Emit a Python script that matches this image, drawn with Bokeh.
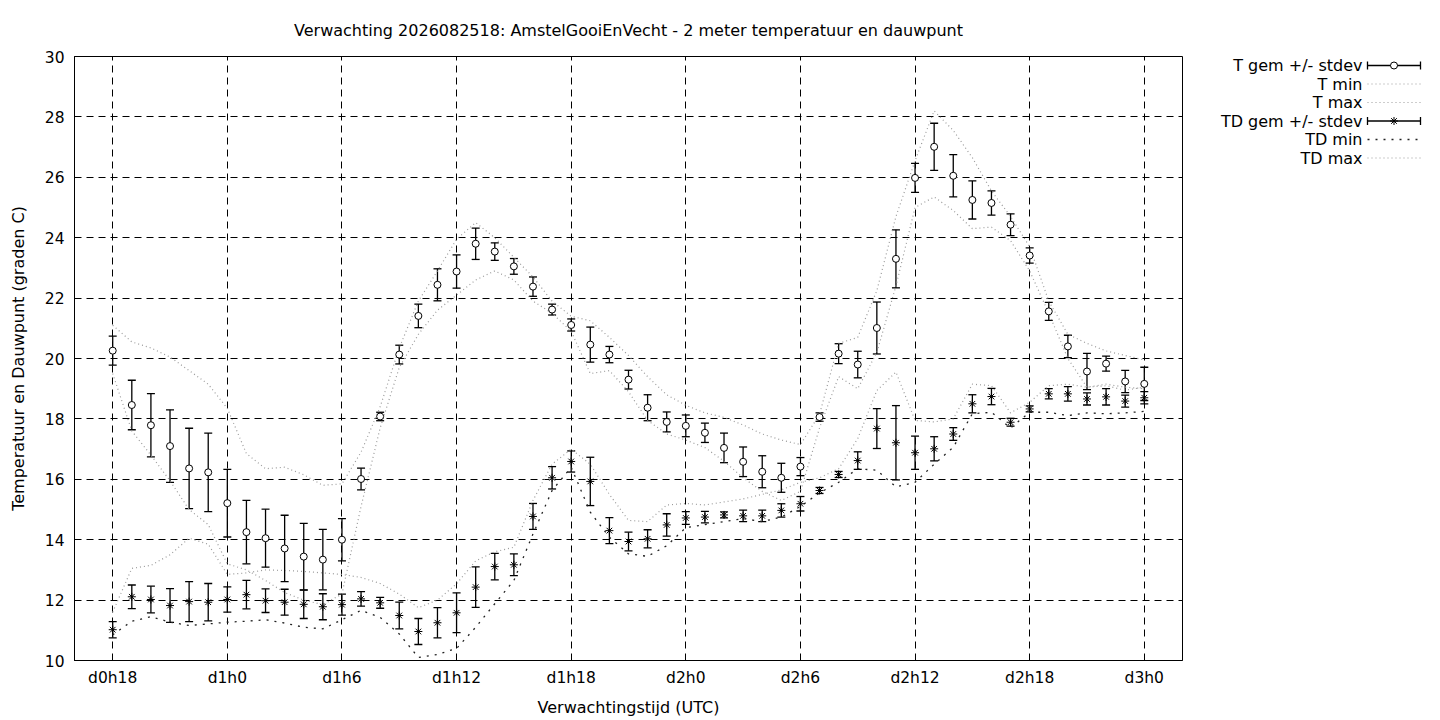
import numpy as np
from bokeh.plotting import figure
from bokeh.layouts import row
from bokeh.models import ColumnDataSource, Whisker, TeeHead, FixedTicker, Range1d
from bokeh.core.properties import value
from bokeh.embed import file_html
from bokeh.resources import INLINE

FONT = "DejaVu Sans"

# --- data (hours since d0h0) ---
hours = list(range(18, 73))

t_mean = [20.26, 18.46, 17.79, 17.10, 16.36, 16.23, 15.21, 14.25, 14.05, 13.71,
          13.44, 13.34, 14.00, 16.01, 18.08, 20.13, 21.41, 22.44, 22.88, 23.80,
          23.54, 23.05, 22.38, 21.62, 21.11, 20.46, 20.13, 19.30, 18.37, 17.90,
          17.77, 17.54, 17.04, 16.58, 16.25, 16.05, 16.42, 18.06, 20.16, 19.80,
          21.01, 23.30, 25.98, 27.01, 26.05, 25.25, 25.15, 24.43, 23.41, 21.56,
          20.40, 19.57, 19.83, 19.24, 19.16]
t_std = [0.48, 0.82, 1.05, 1.20, 1.33, 1.30, 1.12, 1.05, 0.96, 1.10,
         1.10, 1.00, 0.70, 0.36, 0.14, 0.31, 0.39, 0.53, 0.55, 0.52,
         0.29, 0.26, 0.32, 0.18, 0.20, 0.58, 0.27, 0.31, 0.43, 0.33,
         0.36, 0.32, 0.49, 0.49, 0.53, 0.48, 0.30, 0.14, 0.33, 0.44,
         0.86, 0.96, 0.48, 0.78, 0.70, 0.63, 0.40, 0.36, 0.25, 0.30,
         0.37, 0.60, 0.25, 0.37, 0.55]
t_min = [19.50, 17.60, 16.80, 15.95, 15.00, 14.50, 13.20, 13.00, 12.65, 12.25,
         12.00, 11.85, 12.20, 15.10, 17.70, 19.70, 20.80, 21.60, 22.10, 22.60,
         22.90, 22.60, 21.90, 21.50, 20.90, 19.50, 19.60, 18.90, 17.95, 17.50,
         17.30, 17.05, 16.60, 16.05, 15.60, 15.30, 15.60, 17.70, 19.40, 19.00,
         20.20, 22.40, 25.00, 25.35, 24.90, 24.30, 24.35, 23.90, 22.90, 21.50,
         20.00, 19.05, 19.15, 19.05, 19.00]
t_max = [21.10, 20.55, 20.35, 20.05, 19.60, 19.15, 18.35, 16.85, 16.35, 16.40,
         16.15, 15.80, 15.85, 16.90, 18.40, 20.35, 21.90, 22.90, 23.95, 24.50,
         24.00, 23.35, 22.70, 21.90, 21.40, 21.25, 20.70, 20.10, 19.40, 18.80,
         18.45, 18.20, 18.05, 17.80, 17.50, 17.30, 17.15, 18.15, 20.50, 20.70,
         22.25, 24.70, 26.55, 28.20, 27.55, 26.65, 25.55, 24.70, 23.70, 21.90,
         20.80, 20.50, 20.25, 20.10, 19.95]

td_mean = [11.02, 12.11, 12.02, 11.82, 11.95, 11.93, 12.02, 12.18, 11.98, 11.93,
           11.86, 11.78, 11.85, 12.04, 11.91, 11.49, 10.96, 11.25, 11.58, 12.43,
           13.11, 13.17, 14.77, 16.05, 16.59, 15.93, 14.30, 13.94, 14.03, 14.49,
           14.72, 14.75, 14.82, 14.79, 14.79, 14.97, 15.19, 15.63, 16.16, 16.62,
           17.68, 17.21, 16.88, 17.01, 17.50, 18.50, 18.74, 17.89, 18.33, 18.83,
           18.83, 18.66, 18.73, 18.59, 18.70]
td_std = [0.27, 0.39, 0.44, 0.56, 0.66, 0.62, 0.42, 0.47, 0.39, 0.43,
          0.47, 0.43, 0.35, 0.24, 0.18, 0.44, 0.43, 0.50, 0.66, 0.67,
          0.44, 0.36, 0.43, 0.37, 0.35, 0.80, 0.43, 0.31, 0.30, 0.37,
          0.21, 0.19, 0.10, 0.19, 0.19, 0.22, 0.24, 0.10, 0.10, 0.29,
          0.66, 1.23, 0.55, 0.40, 0.21, 0.30, 0.27, 0.13, 0.10, 0.17,
          0.24, 0.20, 0.27, 0.20, 0.20]
td_min = [10.85, 11.30, 11.45, 11.27, 11.16, 11.21, 11.27, 11.30, 11.35, 11.24,
          11.10, 11.05, 11.35, 11.66, 11.43, 10.88, 10.10, 10.20, 10.40, 11.10,
          11.88, 12.65, 14.19, 15.63, 16.40, 14.91, 14.08, 13.53, 13.45, 13.80,
          14.40, 14.50, 14.60, 14.70, 14.60, 14.75, 15.10, 15.55, 15.90, 16.35,
          16.30, 15.75, 15.90, 16.50, 17.06, 18.17, 18.22, 17.70, 18.22, 18.22,
          18.11, 18.20, 18.17, 18.20, 18.25]
td_max = [11.60, 13.05, 13.15, 13.50, 14.05, 13.85, 12.85, 12.90, 13.00, 12.98,
          12.95, 12.90, 12.85, 12.75, 12.55, 12.20, 11.75, 12.00, 12.54, 13.30,
          13.60, 13.75, 15.30, 16.50, 17.00, 16.50, 15.50, 14.64, 14.60, 15.15,
          15.20, 15.15, 15.25, 15.35, 15.50, 15.65, 15.90, 16.05, 16.35, 17.35,
          18.94, 19.55, 17.95, 17.90, 18.00, 19.15, 19.10, 18.20, 18.55, 19.10,
          19.15, 19.05, 19.10, 18.95, 19.05]

x_ticks = [18, 24, 30, 36, 42, 48, 54, 60, 66, 72]
x_tick_labels = ["d0h18", "d1h0", "d1h6", "d1h12", "d1h18",
                 "d2h0", "d2h6", "d2h12", "d2h18", "d3h0"]
y_ticks = [10, 12, 14, 16, 18, 20, 22, 24, 26, 28, 30]

legend_labels = ["T gem +/- stdev", "T min", "T max",
                 "TD gem +/- stdev", "TD min", "TD max"]

GREY = "#9a9a9a"
GREY_DASH = "1 3"
TDMIN_DASH = "2 6"
TXT = "16px"
TICK_TXT = "15.5px"

t_mean_a = np.array(t_mean)
td_mean_a = np.array(td_mean)
src = ColumnDataSource(data=dict(
    hour=hours,
    t_mean=t_mean, t_lo=t_mean_a - np.array(t_std), t_hi=t_mean_a + np.array(t_std),
    td_mean=td_mean, td_lo=td_mean_a - np.array(td_std), td_hi=td_mean_a + np.array(td_std),
    t_min=t_min, t_max=t_max, td_min=td_min, td_max=td_max,
))

# --- main chart ---
p = figure(
    title="Verwachting 2026082518: AmstelGooiEnVecht - 2 meter temperatuur en dauwpunt",
    width=1188, height=720,
    x_range=Range1d(16, 74), y_range=Range1d(10, 30),
    x_axis_label="Verwachtingstijd (UTC)",
    y_axis_label="Temperatuur en Dauwpunt (graden C)",
    output_backend="svg", toolbar_location=None,
    min_border_left=74, min_border_right=6, min_border_top=56, min_border_bottom=60,
)
p.frame_align = False
p.background_fill_color = "white"
p.border_fill_color = "white"
p.outline_line_color = "black"
p.outline_line_alpha = 1.0
p.outline_line_width = 1

p.title.text_font = FONT
p.title.text_font_size = TXT
p.title.text_font_style = "normal"
p.title.text_color = "black"
p.title.align = "center"
p.title.standoff = 33

p.xaxis.ticker = FixedTicker(ticks=x_ticks)
p.xaxis.major_label_overrides = dict(zip(x_ticks, x_tick_labels))
p.yaxis.ticker = FixedTicker(ticks=y_ticks)

for ax in (p.xaxis, p.yaxis):
    ax.axis_label_text_font = FONT
    ax.axis_label_text_font_size = TXT
    ax.axis_label_text_font_style = "normal"
    ax.axis_label_text_color = "black"
    ax.major_label_text_font = FONT
    ax.major_label_text_font_size = TICK_TXT
    ax.major_label_text_color = "black"
    ax.axis_line_color = "black"
    ax.major_tick_line_color = "black"
    ax.major_tick_in = 6
    ax.major_tick_out = 0
    ax.minor_tick_line_color = None
    ax.major_label_standoff = 10
p.xaxis.major_label_standoff = 8
p.xaxis.axis_label_standoff = 8
p.yaxis.axis_label_standoff = 14

p.grid.grid_line_color = "black"
p.grid.grid_line_alpha = 1.0
p.grid.grid_line_width = 1
p.grid.grid_line_dash = "7 5"

# min / max envelopes
p.line("hour", "t_min", source=src, line_color=GREY, line_width=1.2, line_dash=GREY_DASH)
p.line("hour", "t_max", source=src, line_color=GREY, line_width=1.2, line_dash=GREY_DASH)
p.line("hour", "td_min", source=src, line_color="#222222", line_width=1.3, line_dash=TDMIN_DASH)
p.line("hour", "td_max", source=src, line_color=GREY, line_width=1.2, line_dash=GREY_DASH)

# error bars
for lo, hi in (("t_lo", "t_hi"), ("td_lo", "td_hi")):
    p.add_layout(Whisker(
        source=src, base="hour", lower=lo, upper=hi,
        line_color="black", line_width=1.3,
        lower_head=TeeHead(size=8, line_color="black", line_width=1.3),
        upper_head=TeeHead(size=8, line_color="black", line_width=1.3),
    ))

p.scatter("hour", "t_mean", source=src, marker="circle", size=7,
          fill_color="white", line_color="black", line_width=1)
p.scatter("hour", "td_mean", source=src, marker="asterisk", size=8,
          line_color="black", line_width=1)

# --- gnuplot-style key on the right ---
lg = figure(
    width=252, height=720,
    x_range=Range1d(0, 252), y_range=Range1d(720, 0),
    output_backend="svg", toolbar_location=None,
    x_axis_location=None, y_axis_location=None,
    min_border=0,
)
lg.frame_align = False
lg.grid.visible = False
lg.outline_line_color = None
lg.background_fill_color = "white"
lg.border_fill_color = "white"

rows = [65, 83.5, 102, 120.5, 139, 157.5]
x_txt, x0, x1 = 174, 179, 232
xm = (x0 + x1) / 2

lg.text(x=[x_txt] * len(rows), y=rows, text=legend_labels,
        text_align="right", text_baseline="middle",
        text_font=value(FONT), text_font_size=TXT, text_color="black")

for r, mk in ((rows[0], "circle"), (rows[3], "asterisk")):
    lg.segment(x0=[x0], y0=[r], x1=[x1], y1=[r], line_color="black", line_width=1.3)
    lg.segment(x0=[x0, x1], y0=[r - 4, r - 4], x1=[x0, x1], y1=[r + 4, r + 4],
               line_color="black", line_width=1.3)
    lg.scatter(x=[xm], y=[r], marker=mk, size=7 if mk == "circle" else 8,
               fill_color="white", line_color="black", line_width=1)

for r, col, dash, lw in ((rows[1], GREY, GREY_DASH, 1.2), (rows[2], GREY, GREY_DASH, 1.2),
                         (rows[4], "#222222", TDMIN_DASH, 1.3), (rows[5], GREY, GREY_DASH, 1.2)):
    lg.line(x=[x0, x1], y=[r, r], line_color=col, line_width=lw, line_dash=dash)

open("out.html", "w").write(file_html(row(p, lg), INLINE))
